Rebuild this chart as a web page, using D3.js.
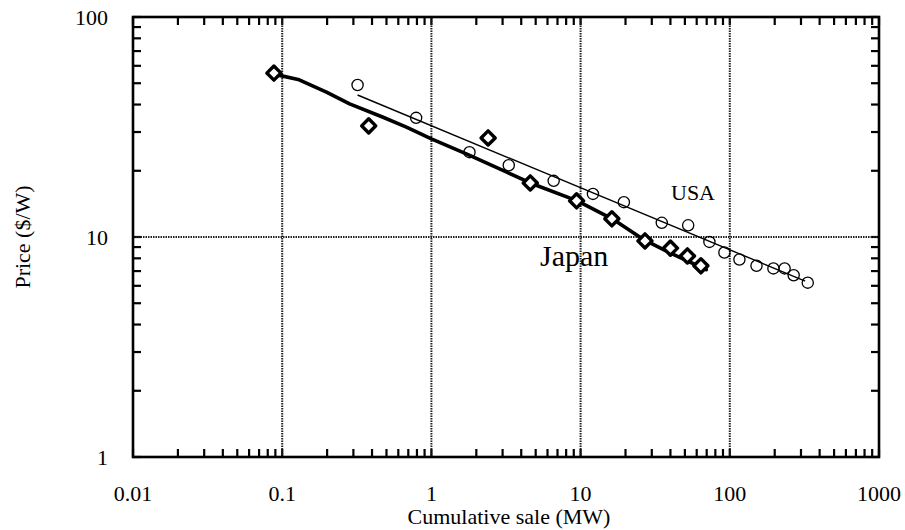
<!DOCTYPE html>
<html>
<head>
<meta charset="utf-8">
<script src="https://cdn.jsdelivr.net/npm/d3@7"></script>
</head>
<body style="margin:0; background:#fff">
<script>
// cumulative sale (MW) vs price ($/W)
const japanSale = [0.088, 0.38, 2.4, 4.6, 9.4, 16.2, 27, 40, 52, 64];
const japanPrice = [55.6, 32.0, 28.2, 17.6, 14.6, 12.1, 9.6, 8.9, 8.2, 7.4];
const usaSale = [0.32, 0.79, 1.8, 3.3, 6.6, 12.1, 19.5, 35, 52.6, 73, 92, 116, 151, 196, 233, 268, 333];
const usaPrice = [49.1, 34.8, 24.3, 21.2, 18.0, 15.7, 14.4, 11.6, 11.3, 9.5, 8.5, 7.9, 7.4, 7.2, 7.2, 6.7, 6.2];
// hand-drawn Japan trend line, traced point by point
const japanTrendSale = [0.088, 0.13, 0.198, 0.283, 0.47, 0.68, 1.0, 1.73, 3.2, 4.6, 9.5, 16.3, 26.7, 39.4, 69.5];
const japanTrendPrice = [55.0, 51.8, 45.6, 40.3, 35.1, 31.6, 27.9, 23.8, 19.7, 17.6, 14.6, 12.1, 9.7, 8.5, 7.1];
// straight USA fit line, end points
const usaFitSale = [0.32, 320];
const usaFitPrice = [44.2, 6.3];
const xTickLabels = [0.01, 0.1, 1, 10, 100, 1000];
const yTickLabels = [1, 10, 100];
const xGrid = [0.1, 1, 10, 100];
const yGrid = [10];

const W = 905, H = 530;
const margin = { top: 17, right: 26, bottom: 73, left: 133 };
const serif = "'Liberation Serif', 'Times New Roman', 'DejaVu Serif', serif";

const svg = d3.select("body").append("svg").attr("width", W).attr("height", H);
const x = d3.scaleLog().domain([0.01, 1000]).range([margin.left, W - margin.right]);
const y = d3.scaleLog().domain([1, 100]).range([H - margin.bottom, margin.top]);

// minor ticks 1..9 in every decade
const minorTicks = (lo, hi) => {
	const out = [];
	for (let d = lo; d < hi; d *= 10) for (let k = 1; k < 10; k++) out.push(+(k * d).toPrecision(3));
	out.push(hi);
	return out;
};
const xMinor = minorTicks(0.01, 1000);
const yMinor = minorTicks(1, 100);

// inward ticks on all four sides
const tickLen = 8;
const tickG = svg.append("g").attr("stroke", "#000").attr("stroke-width", 2.2);
tickG.selectAll(".xb").data(xMinor).join("line").attr("class", "xb")
	.attr("x1", d => x(d)).attr("x2", d => x(d))
	.attr("y1", y(1)).attr("y2", y(1) - tickLen);
tickG.selectAll(".xt").data(xMinor).join("line").attr("class", "xt")
	.attr("x1", d => x(d)).attr("x2", d => x(d))
	.attr("y1", y(100)).attr("y2", y(100) + tickLen);
tickG.selectAll(".yl").data(yMinor).join("line").attr("class", "yl")
	.attr("x1", x(0.01)).attr("x2", x(0.01) + tickLen)
	.attr("y1", d => y(d)).attr("y2", d => y(d));
tickG.selectAll(".yr").data(yMinor).join("line").attr("class", "yr")
	.attr("x1", x(1000)).attr("x2", x(1000) - tickLen)
	.attr("y1", d => y(d)).attr("y2", d => y(d));

// grid
const gridG = svg.append("g").attr("stroke", "#222").attr("stroke-width", 2).attr("stroke-dasharray", "1.5 1");
gridG.selectAll(".gx").data(xGrid).join("line").attr("class", "gx")
	.attr("x1", d => x(d)).attr("x2", d => x(d))
	.attr("y1", y(1)).attr("y2", y(100));
gridG.selectAll(".gy").data(yGrid).join("line").attr("class", "gy")
	.attr("x1", x(0.01)).attr("x2", x(1000))
	.attr("y1", d => y(d)).attr("y2", d => y(d));

// frame
svg.append("rect")
	.attr("x", x(0.01)).attr("y", y(100))
	.attr("width", x(1000) - x(0.01)).attr("height", y(1) - y(100))
	.attr("fill", "none").attr("stroke", "#000").attr("stroke-width", 2.6);

// lines
const lineGen = d3.line().x(d => x(d[0])).y(d => y(d[1]));
svg.append("path")
	.datum(d3.zip(usaFitSale, usaFitPrice))
	.attr("d", lineGen).attr("fill", "none")
	.attr("stroke", "#000").attr("stroke-width", 1.4);
svg.append("path")
	.datum(d3.zip(japanTrendSale, japanTrendPrice))
	.attr("d", lineGen).attr("fill", "none")
	.attr("stroke", "#000").attr("stroke-width", 3.6)
	.attr("stroke-linejoin", "round").attr("stroke-linecap", "round");

// USA circles
svg.append("g").selectAll("circle").data(d3.zip(usaSale, usaPrice)).join("circle")
	.attr("cx", d => x(d[0])).attr("cy", d => y(d[1])).attr("r", 5.6)
	.attr("fill", "none").attr("stroke", "#000").attr("stroke-width", 1.3);

// Japan diamonds
const diamond = d3.symbol().type(d3.symbolSquare).size(100);
svg.append("g").selectAll("path").data(d3.zip(japanSale, japanPrice)).join("path")
	.attr("transform", d => `translate(${x(d[0])},${y(d[1])}) rotate(45)`)
	.attr("d", diamond)
	.attr("fill", "#fff").attr("stroke", "#000").attr("stroke-width", 3.4)
	.attr("stroke-linejoin", "round");

// tick labels
svg.append("g").selectAll("text").data(xTickLabels).join("text")
	.attr("x", d => x(d)).attr("y", 501)
	.attr("text-anchor", "middle").attr("font-size", 22)
	.attr("font-family", serif)
	.text(d => d);
svg.append("g").selectAll("text").data(yTickLabels).join("text")
	.attr("x", 108).attr("y", d => y(d)).attr("dy", "0.35em")
	.attr("text-anchor", "end").attr("font-size", 22)
	.attr("font-family", serif)
	.text(d => d);

// axis titles
svg.append("text")
	.attr("x", 509).attr("y", 524)
	.attr("text-anchor", "middle").attr("font-size", 22)
	.attr("font-family", serif)
	.text("Cumulative sale (MW)");
svg.append("text")
	.attr("transform", `translate(30,${(y(1) + y(100)) / 2}) rotate(-90)`)
	.attr("text-anchor", "middle").attr("font-size", 22)
	.attr("font-family", serif)
	.text("Price ($/W)");

// series labels
svg.append("text").attr("x", 671).attr("y", 200).attr("font-size", 22)
	.attr("font-family", serif).text("USA");
svg.append("text").attr("x", 540).attr("y", 266).attr("font-size", 30)
	.attr("font-family", serif).text("Japan");
</script>
</body>
</html>
